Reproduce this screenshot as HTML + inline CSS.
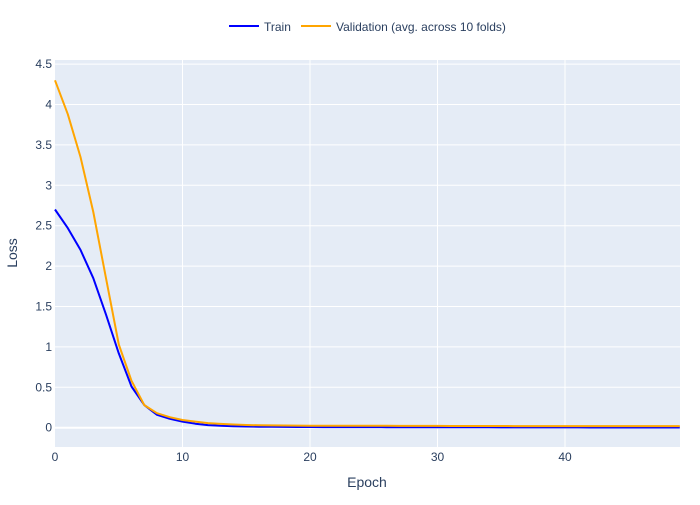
<!DOCTYPE html>
<html><head><meta charset="utf-8"><style>
body{margin:0;background:#fff;font-family:"Liberation Sans",sans-serif;}
svg text{font-family:"Liberation Sans",sans-serif;fill:#2a3f5f;}
</style></head><body>
<svg id="chart" width="700" height="500">
<rect x="0" y="0" width="700" height="500" fill="#fff"/>
<rect x="55" y="60" width="625" height="387" fill="#e5ecf6"/>
<g id="grid"></g><g id="lines"></g><g id="ticks"></g>
<text x="367" y="487" font-size="14" text-anchor="middle">Epoch</text>
<text x="17" y="253" font-size="14" text-anchor="middle" transform="rotate(-90 17 253)">Loss</text>
<g>
<g><line x1="229" y1="26" x2="259" y2="26" stroke="#0000ff" stroke-width="2"/><text x="264" y="31" font-size="12">Train</text></g>
<g><line x1="301" y1="26" x2="331" y2="26" stroke="#ffa500" stroke-width="2"/><text x="336" y="31" font-size="12">Validation (avg. across 10 folds)</text></g>
</g>
</svg>
<script>
const epochs=[];for(let i=0;i<50;i++)epochs.push(i);
const trainLoss=[2.7,2.47,2.2,1.85,1.4,0.92,0.51,0.28,0.16,0.11,0.075,0.05,0.032,0.024,0.019,0.015,0.012,0.011,0.01,0.009,0.009,0.008,0.008,0.007,0.007,0.007,0.006,0.006,0.006,0.006,0.005,0.005,0.005,0.005,0.005,0.004,0.004,0.004,0.004,0.004,0.004,0.004,0.003,0.003,0.003,0.003,0.003,0.003,0.003,0.003];
const valLoss=[4.3,3.88,3.35,2.67,1.85,1.03,0.58,0.28,0.18,0.13,0.095,0.075,0.057,0.047,0.04,0.034,0.03,0.028,0.027,0.026,0.025,0.025,0.024,0.024,0.023,0.023,0.023,0.022,0.022,0.022,0.022,0.021,0.021,0.021,0.021,0.021,0.02,0.02,0.02,0.02,0.02,0.02,0.02,0.02,0.02,0.02,0.02,0.02,0.02,0.02];
const xTicks=[0,10,20,30,40];
const yTicks=[0,0.5,1,1.5,2,2.5,3,3.5,4,4.5];
const NS="http://www.w3.org/2000/svg";
const X=v=>55+v*12.75;
const Y=v=>427.7-v*80.8;
const grid=document.getElementById('grid'),ticks=document.getElementById('ticks'),lines=document.getElementById('lines');
function mk(t,a,p){const e=document.createElementNS(NS,t);for(const k in a)e.setAttribute(k,a[k]);p.appendChild(e);return e;}
xTicks.forEach(v=>{
 if(v>0){const g=mk('line',{x1:X(v),x2:X(v),y1:60,y2:447,stroke:'#fff','stroke-width':1},grid);
 
 }
 const t=mk('text',{x:X(v),y:461,'font-size':12,'text-anchor':'middle'},ticks);t.textContent=v;
 
 
});
yTicks.forEach(v=>{
 const g=mk('line',{x1:55,x2:680,y1:Y(v),y2:Y(v),stroke:'#fff','stroke-width':v===0?2:1},grid);
 
 
 const t=mk('text',{x:52,y:Y(v)+4,'font-size':12,'text-anchor':'end'},ticks);t.textContent=v;
 
 
});
function path(vals,color,name){
 const d=vals.map((v,i)=>(i?'L':'M')+X(epochs[i]).toFixed(1)+','+Y(v).toFixed(1)).join('');
 const p=mk('path',{d:d,fill:'none',stroke:color,'stroke-width':2,'stroke-linejoin':'round'},lines);
 
 
}
path(trainLoss,'#0000ff','train-line');
path(valLoss,'#ffa500','validation-line');
</script>
</body></html>
